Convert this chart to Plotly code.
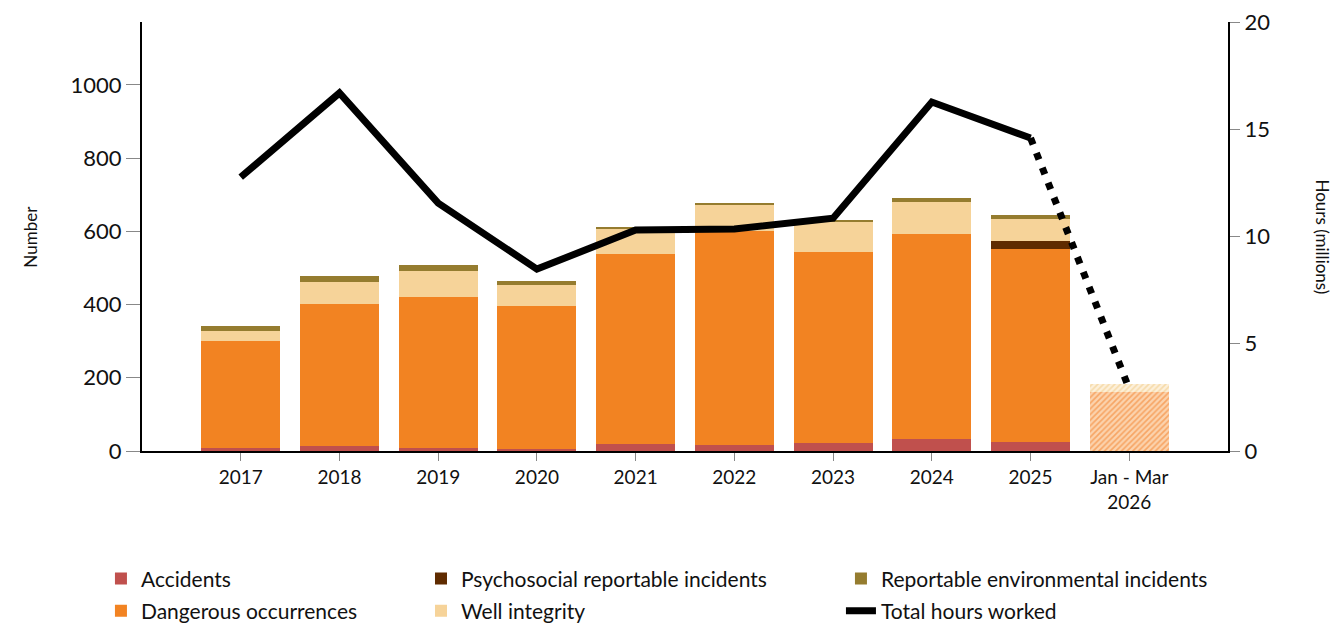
import plotly.graph_objects as go

categories = ["2017", "2018", "2019", "2020", "2021", "2022", "2023", "2024", "2025", "Jan - Mar<br>2026"]
accidents = [7, 14, 8, 6, 20, 16, 22, 33, 25, 0]
dangerous = [294, 387, 414, 389, 519, 586, 521, 559, 527, 161]
psychosocial = [0, 0, 0, 0, 0, 0, 0, 0, 23, 0]
well_integrity = [27, 61, 71, 59, 70, 71, 83, 89, 60, 22]
environmental = [13, 15, 14, 10, 3, 2, 5, 10, 10, 0]
hours_millions = [12.77, 16.69, 11.56, 8.48, 10.30, 10.35, 10.85, 16.27, 14.59, 2.89]

FONT = "Lato, 'Open Sans', sans-serif"
x = list(range(len(categories)))
n = len(categories)
full_x, part_x = x[:n - 1], x[n - 1:]

fig = go.Figure()

# name, values, colour, partial-year light colour, partial-year hatch colour, legend id
series = [
    ("Accidents", accidents, "#c0504d", "#eab0ae", "#dc8d8b", "legend"),
    ("Dangerous occurrences", dangerous, "#f28322", "#fcd3ad", "#f7a564", "legend4"),
    ("Psychosocial reportable incidents", psychosocial, "#5f2b00", "#c7a78c", "#8a5a3a", "legend2"),
    ("Well integrity", well_integrity, "#f6d399", "#fdf0da", "#f6dbaa", "legend5"),
    ("Reportable environmental incidents", environmental, "#957c2f", "#d6c89c", "#b09a5a", "legend3"),
]
for name, vals, c, cl, hf, lg in series:
    fig.add_trace(go.Bar(x=full_x, y=vals[:n - 1], name=name, width=0.8,
                         marker=dict(color=c, line=dict(width=0)),
                         legend=lg, yaxis="y"))
for name, vals, c, cl, hf, lg in series:
    fig.add_trace(go.Bar(x=part_x, y=vals[n - 1:], name=name + " (partial year)", width=0.8,
                         showlegend=False,
                         marker=dict(color=cl, line=dict(width=0),
                                     pattern=dict(shape="/", fillmode="replace", bgcolor=cl,
                                                  fgcolor=hf, size=4, solidity=0.4)),
                         legend=lg, yaxis="y"))

fig.add_trace(go.Scatter(
    x=x[:n - 1], y=hours_millions[:n - 1], name="Total hours worked", mode="lines",
    line=dict(color="black", width=7), yaxis="y2", legend="legend6",
))
fig.add_trace(go.Scatter(
    x=x[n - 2:], y=hours_millions[n - 2:], mode="lines", showlegend=False,
    line=dict(color="black", width=7, dash="7px,9px"), yaxis="y2",
))

legend_common = dict(font=dict(family=FONT, size=21, color="#111"), bgcolor="rgba(0,0,0,0)",
                     yanchor="middle", xanchor="left")
R1, R2 = -0.298, -0.373
C1, C2, C3 = -0.0378, 0.2569, 0.6436
fig.update_layout(
    width=1336, height=625,
    margin=dict(l=142, r=108, t=22, b=174, autoexpand=False),
    paper_bgcolor="white", plot_bgcolor="white",
    barmode="stack",
    font=dict(family=FONT, color="#111"),
    xaxis=dict(
        tickmode="array", tickvals=x, ticktext=categories,
        range=[-1, n], showline=True, linecolor="black", linewidth=2,
        ticks="outside", ticklen=8, tickcolor="#888", tickfont=dict(size=19),
        showgrid=False, zeroline=False,
    ),
    yaxis=dict(
        range=[0, 1172], tickvals=[0, 200, 400, 600, 800, 1000],
        showline=True, linecolor="black", linewidth=2,
        ticks="outside", ticklen=14, tickcolor="#888", tickfont=dict(size=22),
        showgrid=False, zeroline=False,
    ),
    yaxis2=dict(
        range=[0, 20], tickvals=[0, 5, 10, 15, 20], overlaying="y", side="right",
        showline=True, linecolor="black", linewidth=2,
        ticks="outside", ticklen=10, tickcolor="#888", tickfont=dict(size=22),
        showgrid=False, zeroline=False,
    ),
    legend=dict(x=C1, y=R1, **legend_common),
    legend4=dict(x=C1, y=R2, **legend_common),
    legend2=dict(x=C2, y=R1, **legend_common),
    legend5=dict(x=C2, y=R2, **legend_common),
    legend3=dict(x=C3, y=R1, **legend_common),
    legend6=dict(x=C3, y=R2, **legend_common),
    annotations=[
        dict(text="Number", x=-0.103, xref="paper", y=0.5, yref="paper", showarrow=False,
             textangle=-90, font=dict(size=17), xanchor="center"),
        dict(text="Hours (millions)", x=1.0866, xref="paper", y=0.5, yref="paper", showarrow=False,
             textangle=90, font=dict(size=17), xanchor="center"),
    ],
)

fig.write_html("out.html", post_script="document.body.style.margin='0';",
               config={"displayModeBar": False})
